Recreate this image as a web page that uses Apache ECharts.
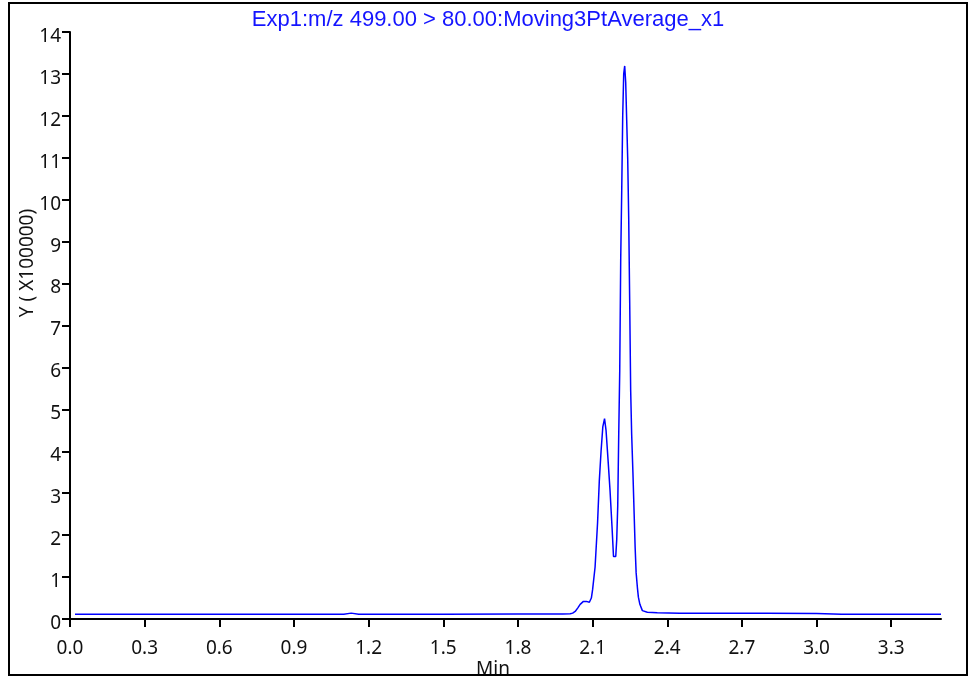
<!DOCTYPE html>
<html>
<head>
<meta charset="utf-8">
<title>Exp1 chromatogram</title>
<script src="https://cdn.jsdelivr.net/npm/echarts@6/dist/echarts.min.js"></script>
<style>
  html, body { margin: 0; padding: 0; background: #fff; }
  #main { width: 971px; height: 677px; }
</style>
</head>
<body>
<div id="main"></div>
<script>
// retention time (min) and intensity (x100000)
var times = [0.02, 0.5, 1.0, 1.10, 1.13, 1.16, 1.5, 1.8, 1.98, 2.01, 2.02, 2.03, 2.04, 2.05, 2.063, 2.075, 2.087, 2.095, 2.10, 2.11,
  2.12, 2.127, 2.134, 2.141, 2.148, 2.154, 2.162, 2.170, 2.178, 2.184, 2.193, 2.197, 2.201, 2.205, 2.209, 2.213, 2.217, 2.221, 2.225, 2.229,
  2.233, 2.237, 2.241, 2.245, 2.249, 2.253, 2.257, 2.262, 2.267, 2.271, 2.275, 2.280, 2.284, 2.29, 2.30, 2.32, 2.36, 2.45, 2.6, 2.8,
  3.0, 3.1, 3.3, 3.5];
var intensity = [0.115, 0.115, 0.115, 0.115, 0.14, 0.115, 0.115, 0.12, 0.12, 0.125, 0.14, 0.18, 0.26, 0.35, 0.42, 0.42, 0.40, 0.50, 0.70, 1.24,
  2.3, 3.3, 4.0, 4.58, 4.78, 4.5, 3.8, 3.07, 2.2, 1.49, 1.49, 1.9, 2.7, 4.4, 5.9, 8.6, 10.2, 12.0, 13.0, 13.19,
  12.8, 11.9, 11.0, 9.6, 7.6, 5.45, 4.4, 3.5, 2.5, 1.7, 1.1, 0.75, 0.52, 0.35, 0.20, 0.16, 0.15, 0.14, 0.14, 0.14,
  0.13, 0.115, 0.115, 0.115];
var xTicks = [0.0, 0.3, 0.6, 0.9, 1.2, 1.5, 1.8, 2.1, 2.4, 2.7, 3.0, 3.3];
var yTicks = [0, 1, 2, 3, 4, 5, 6, 7, 8, 9, 10, 11, 12, 13, 14];

var titleText = "Exp1:m/z 499.00 > 80.00:Moving3PtAverage_x1";

var myChart = echarts.init(document.getElementById("main"));
var seriesData = times.map(function (t, i) { return [t, intensity[i]]; });
var labelFont = "Noto Sans";

var option = {
  animation: false,
  backgroundColor: "#fff",
  title: {
    text: titleText,
    left: 483,
    top: 4,
    textAlign: "center",
    textStyle: { color: "#1414ff", fontFamily: "Liberation Sans", fontSize: 22, fontWeight: "normal" }
  },
  grid: { left: 70, top: 32, right: 30, bottom: 58 },
  xAxis: {
    type: "value",
    min: 0,
    max: 3.5,
    splitLine: { show: false },
    axisLine: { lineStyle: { color: "#000", width: 2 } },
    axisTick: { length: 8, lineStyle: { color: "#000", width: 2 }, customValues: xTicks },
    axisLabel: {
      customValues: xTicks,
      margin: 20,
      color: "#111",
      fontFamily: labelFont,
      fontSize: 19,
      formatter: function (v) { return v.toFixed(1); }
    }
  },
  yAxis: {
    type: "value",
    min: 0,
    max: 14,
    interval: 1,
    splitLine: { show: false },
    axisLine: { show: true, lineStyle: { color: "#000", width: 2 } },
    axisTick: { show: true, length: 8, lineStyle: { color: "#000", width: 2 }, customValues: yTicks },
    axisLabel: {
      customValues: yTicks,
      margin: 9,
      color: "#111",
      fontFamily: labelFont,
      fontSize: 19,
      lineHeight: 9,
      verticalAlign: "top"
    }
  },
  series: [{
    type: "line",
    data: seriesData,
    showSymbol: false,
    lineStyle: { color: "#0000ff", width: 1.5 }
  }],
  graphic: [
    {
      type: "rect",
      shape: { x: 9, y: 3, width: 958, height: 672 },
      style: { fill: null, stroke: "#000", lineWidth: 2 },
      z: 100
    },
    {
      type: "text",
      x: 28,
      y: 263,
      rotation: Math.PI / 2,
      style: { text: "Y ( X100000)", fill: "#111", font: "19px 'Noto Sans'", align: "center", verticalAlign: "middle" }
    },
    {
      type: "text",
      x: 493,
      y: 670,
      style: { text: "Min", fill: "#111", font: "19px 'Noto Sans'", align: "center", verticalAlign: "middle" }
    }
  ]
};
if (option && typeof option === "object") {
  myChart.setOption(option);
}
</script>
</body>
</html>
